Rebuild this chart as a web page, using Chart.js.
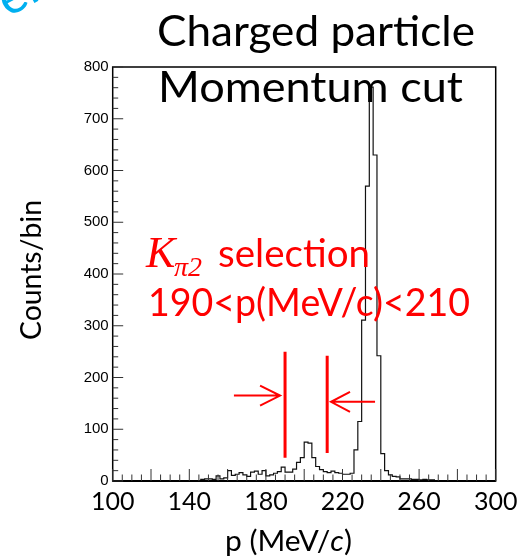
<!DOCTYPE html>
<html>
<head>
<meta charset="utf-8">
<script src="https://cdn.jsdelivr.net/npm/chart.js@4.4.1/dist/chart.umd.min.js"></script>
<style>
  html, body { margin: 0; padding: 0; background: #fff; }
</style>
</head>
<body>
<canvas id="my-chart" width="517" height="558"></canvas>
<script>
// histogram bins, 2 MeV/c wide (lower edges + last upper edge)
const binEdges = [
  100, 102, 104, 106, 108, 110, 112, 114, 116, 118, 120, 122, 124, 126, 128, 130, 132, 134, 136, 138,
  140, 142, 144, 146, 148, 150, 152, 154, 156, 158, 160, 162, 164, 166, 168, 170, 172, 174, 176, 178,
  180, 182, 184, 186, 188, 190, 192, 194, 196, 198, 200, 202, 204, 206, 208, 210, 212, 214, 216, 218,
  220, 222, 224, 226, 228, 230, 232, 234, 236, 238, 240, 242, 244, 246, 248, 250, 252, 254, 256, 258,
  260, 262, 264, 266, 268, 270, 272, 274, 276, 278, 280, 282, 284, 286, 288, 290, 292, 294, 296, 298, 300
];
const counts = [
  0, 0, 0, 0, 0, 0, 0, 0, 0, 0, 0, 0, 0, 0, 0, 0, 0, 0, 0, 0,
  1, 0, 1, 3, 4, 4, 3, 10, 4, 6, 20, 11, 13, 16, 12, 9, 17, 19, 13, 20,
  10, 12, 15, 18, 27, 17, 17, 23, 36, 45, 75, 73, 45, 28, 22, 18, 16, 19, 16, 15,
  13, 13, 15, 60, 115, 311, 570, 761, 630, 242, 53, 20, 12, 9, 8, 4, 4, 4, 3, 3,
  2, 3, 2, 2, 1, 1, 1, 1, 1, 0, 0, 0, 0, 0, 0, 0, 0, 0, 0, 0
];
const xTickLabels = [100, 140, 180, 220, 260, 300];
const yTickLabels = [0, 100, 200, 300, 400, 500, 600, 700, 800];
const cutValues = [190, 212];

const narrow = '"Lato", "Open Sans", sans-serif';
const points = binEdges.map((x, i) => ({ x: x, y: counts[Math.min(i, counts.length - 1)] }));

// draw text squeezed/stretched to a given width
function fitText(ctx, text, x, y, width) {
  const w = ctx.measureText(text).width;
  ctx.save();
  ctx.translate(x, y);
  ctx.scale(width / w, 1);
  ctx.textAlign = "left";
  ctx.fillText(text, 0, 0);
  ctx.restore();
}

const decor = {
  id: "decor",
  afterDraw(chart) {
    const ctx = chart.ctx;
    const a = chart.chartArea;
    const xs = chart.scales.x;
    const ys = chart.scales.y;
    ctx.save();

    // frame
    ctx.strokeStyle = "#000";
    ctx.lineWidth = 1.5;
    ctx.strokeRect(a.left, a.top, a.right - a.left, a.bottom - a.top);
    ctx.lineWidth = 2;
    ctx.beginPath();
    ctx.moveTo(a.left, a.bottom);
    ctx.lineTo(a.right, a.bottom);
    ctx.stroke();

    // inward ticks
    ctx.lineWidth = 1;
    ctx.strokeStyle = "#333";
    ctx.beginPath();
    xs.ticks.forEach(t => {
      const px = xs.getPixelForValue(t.value);
      const len = t.value % 20 === 0 ? 12 : 6.5;
      ctx.moveTo(px, a.bottom);
      ctx.lineTo(px, a.bottom - len);
    });
    ys.ticks.forEach(t => {
      const py = ys.getPixelForValue(t.value);
      const len = t.value % 100 === 0 ? 10.5 : 5.5;
      ctx.moveTo(a.left, py);
      ctx.lineTo(a.left + len, py);
    });
    ctx.stroke();

    // cut lines
    ctx.strokeStyle = "#ff0000";
    ctx.lineWidth = 3;
    ctx.beginPath();
    ctx.moveTo(xs.getPixelForValue(cutValues[0]), ys.getPixelForValue(250));
    ctx.lineTo(xs.getPixelForValue(cutValues[0]), ys.getPixelForValue(45));
    ctx.moveTo(xs.getPixelForValue(cutValues[1]), ys.getPixelForValue(242));
    ctx.lineTo(xs.getPixelForValue(cutValues[1]), ys.getPixelForValue(54));
    ctx.stroke();

    // arrows pointing at the cut lines
    ctx.lineWidth = 2;
    const y1 = ys.getPixelForValue(165);
    const x1a = xs.getPixelForValue(163.3), x1b = xs.getPixelForValue(187.4);
    const y2 = ys.getPixelForValue(153);
    const x2a = xs.getPixelForValue(237), x2b = xs.getPixelForValue(214);
    ctx.beginPath();
    ctx.moveTo(x1a, y1); ctx.lineTo(x1b, y1);
    ctx.moveTo(x1b - 20, y1 - 10); ctx.lineTo(x1b, y1); ctx.lineTo(x1b - 20, y1 + 10);
    ctx.moveTo(x2a, y2); ctx.lineTo(x2b, y2);
    ctx.moveTo(x2b + 19, y2 - 10); ctx.lineTo(x2b, y2); ctx.lineTo(x2b + 19, y2 + 10);
    ctx.stroke();

    // red selection text
    ctx.fillStyle = "#ff0000";
    ctx.textBaseline = "alphabetic";
    ctx.font = 'italic 44px "Liberation Serif", serif';
    ctx.fillText("K", 146, 267);
    ctx.font = 'italic 28px "Liberation Serif", serif';
    ctx.fillText("\u03c02", 174, 276);
    ctx.font = "38px " + narrow;
    fitText(ctx, "selection", 218, 267, 152);
    fitText(ctx, "190<p(MeV/c)<210", 148, 316, 322);

    // title
    ctx.fillStyle = "#000";
    ctx.font = "43px " + narrow;
    fitText(ctx, "Charged particle", 157, 46, 318);
    fitText(ctx, "Momentum cut", 158, 102, 305);

    // axis titles
    ctx.font = "28px " + narrow;
    ctx.save();
    ctx.translate(41, 270);
    ctx.rotate(-Math.PI / 2);
    fitText(ctx, "Counts/bin", -70, 0, 140);
    ctx.restore();

    const partA = "p (MeV/", partB = "c", partC = ")";
    ctx.font = "28px " + narrow;
    const wA = ctx.measureText(partA).width, wC = ctx.measureText(partC).width;
    ctx.font = "italic 28px " + narrow;
    const wB = ctx.measureText(partB).width;
    const k = 127 / (wA + wB + wC);
    ctx.save();
    ctx.translate(225, 551);
    ctx.scale(k, 1);
    ctx.font = "28px " + narrow;
    ctx.fillText(partA, 0, 0);
    ctx.font = "italic 28px " + narrow;
    ctx.fillText(partB, wA, 0);
    ctx.font = "28px " + narrow;
    ctx.fillText(partC, wA + wB, 0);
    ctx.restore();

    // blue watermark, mostly cut off by the page edge
    ctx.save();
    ctx.fillStyle = "#00b0f0";
    ctx.font = "50px " + narrow;
    ctx.translate(9, 17);
    ctx.rotate(-0.5);
    const pre = ctx.measureText("Pr").width;
    ctx.fillText("Preliminary", -pre, 0);
    ctx.restore();

    ctx.restore();
  }
};

const ctx = document.getElementById("my-chart").getContext("2d");
const myChart = new Chart(ctx, {
  type: "line",
  data: {
    datasets: [
      {
        data: points,
        stepped: true,
        borderColor: "#111",
        borderWidth: 1.2,
        pointRadius: 0,
        fill: false
      }
    ]
  },
  options: {
    responsive: false,
    animation: false,
    devicePixelRatio: 1,
    layout: { padding: { left: 0, right: 21.3, top: 67, bottom: 0 } },
    plugins: { legend: { display: false }, tooltip: { enabled: false } },
    scales: {
      x: {
        type: "linear",
        min: 100,
        max: 300,
        afterFit: s => { s.height = 77; s.paddingLeft = 0; s.paddingRight = 0; },
        grid: { display: false, drawTicks: false },
        border: { display: false },
        ticks: {
          stepSize: 5,
          autoSkip: false,
          maxRotation: 0,
          padding: 6,
          color: "#000",
          font: { family: narrow, size: 25 },
          callback: v => xTickLabels.includes(v) ? String(v) : ""
        }
      },
      y: {
        min: 0,
        max: 800,
        afterFit: s => { s.width = 112.7; s.paddingTop = 0; s.paddingBottom = 0; },
        grid: { display: false, drawTicks: false },
        border: { display: false },
        ticks: {
          stepSize: 20,
          autoSkip: false,
          maxTicksLimit: 1000,
          padding: 4,
          color: "#000",
          font: { family: '"Liberation Sans", Arial, sans-serif', size: 15 },
          callback: v => yTickLabels.includes(v) ? String(v) : ""
        }
      }
    }
  },
  plugins: [decor]
});
</script>
</body>
</html>
